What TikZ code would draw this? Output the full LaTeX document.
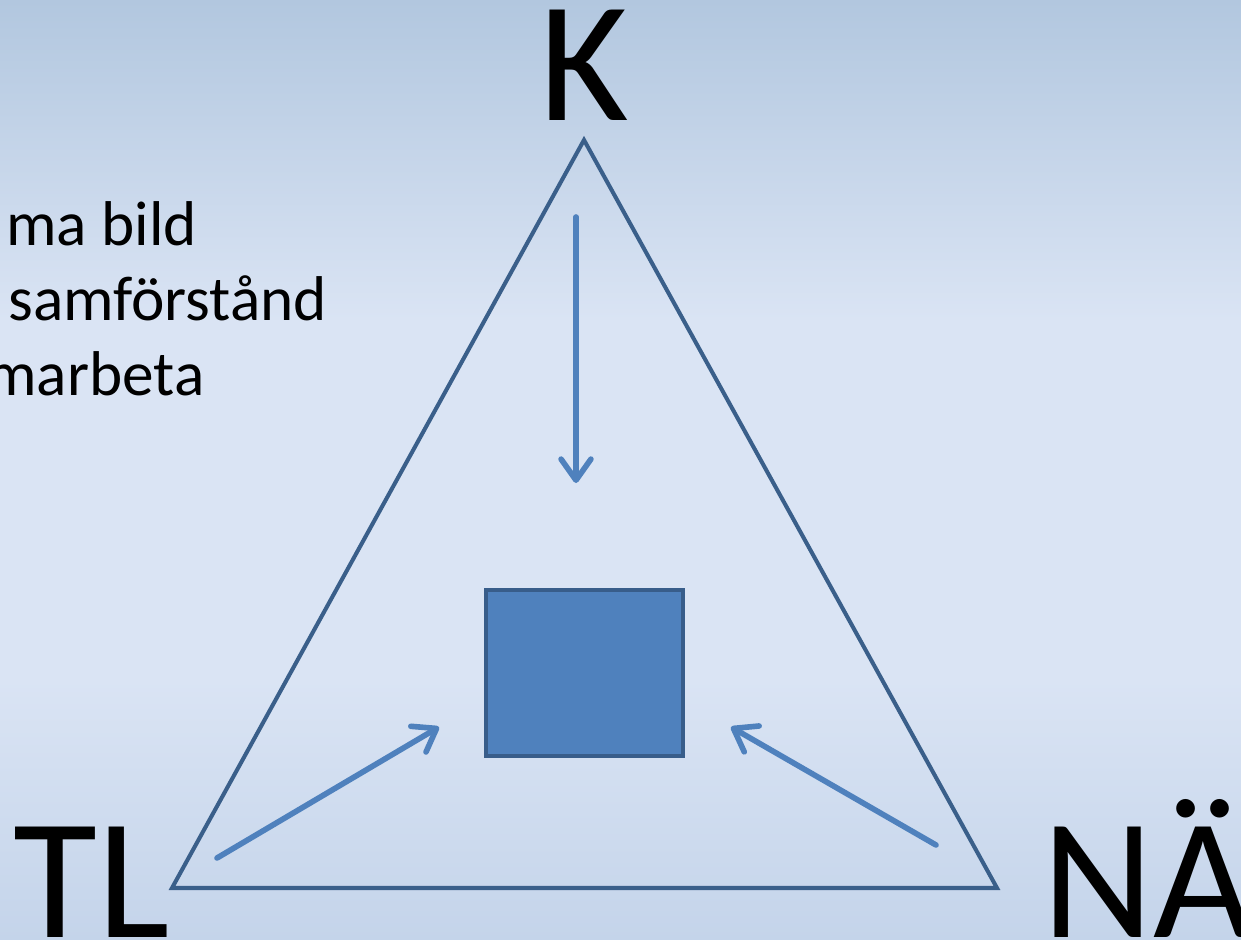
\documentclass[tikz,border=0pt]{standalone}
\usepackage{fontspec}
\setmainfont{Carlito}
\usetikzlibrary{arrows.meta}
\definecolor{bgtop}{RGB}{178,199,223}
\definecolor{bgmid}{RGB}{218,228,244}
\definecolor{bgbot}{RGB}{196,212,234}
\definecolor{triline}{RGB}{58,95,138}
\definecolor{arrowblue}{RGB}{79,129,189}
\definecolor{boxfill}{RGB}{79,129,189}
\definecolor{boxline}{RGB}{56,93,138}
\tikzset{
  bigletter/.style={font=\fontsize{98}{98}\selectfont, inner sep=0pt, text=black},
  bodytext/.style={font=\fontsize{36}{40}\selectfont, inner sep=0pt, anchor=base west, text=black},
  triedge/.style={draw=triline, line width=2.3pt, line join=miter},
  pointer/.style={draw=arrowblue, line width=3.2pt, line cap=round,
    -{Straight Barb[length=12pt,width=17pt,round]}},
  centrebox/.style={draw=boxline, fill=boxfill, line width=2.8pt, inner sep=0pt}
}
\begin{document}
\begin{tikzpicture}[x=0.02cm,y=-0.02cm]
\useasboundingbox (0,0) rectangle (1241,940);
\shade[top color=bgtop, bottom color=bgmid] (0,0) rectangle (1241,320);
\fill[bgmid] (0,319) rectangle (1241,680);
\shade[top color=bgmid, bottom color=bgbot] (0,679) rectangle (1241,940);

% left text (cut off at the page edge)
\node[bodytext] (t1) at (6,245) {ma bild};
\node[bodytext] (t2) at (8,320) {samförstånd};
\node[bodytext] (t3) at (-14,395) {marbeta};

% triangle
\coordinate (top) at (584,140);
\coordinate (bl) at (172,888);
\coordinate (br) at (997,888);
\draw[triedge] (top) -- (bl) -- (br) -- cycle;

% centre box
\node[centrebox, minimum width=197*0.02cm, minimum height=166*0.02cm] (box) at (584.5,673) {};

% arrows
\coordinate (a1s) at (576,217);
\coordinate (a1e) at (576,483);
\coordinate (a2s) at (217,858);
\coordinate (a2e) at (439,727);
\coordinate (a3s) at (936,845);
\coordinate (a3e) at (731,727);
\draw[pointer] (a1s) -- (a1e);
\draw[pointer] (a2s) -- (a2e);
\draw[pointer] (a3s) -- (a3e);

% corner letters
\node[bigletter, anchor=base] (K) at (584,120) {K};
\node[bigletter, anchor=base west] (TL) at (13,937) {TL};
\node[bigletter, anchor=base west] (NA) at (1042,937) {NÄ};
\end{tikzpicture}
\end{document}
